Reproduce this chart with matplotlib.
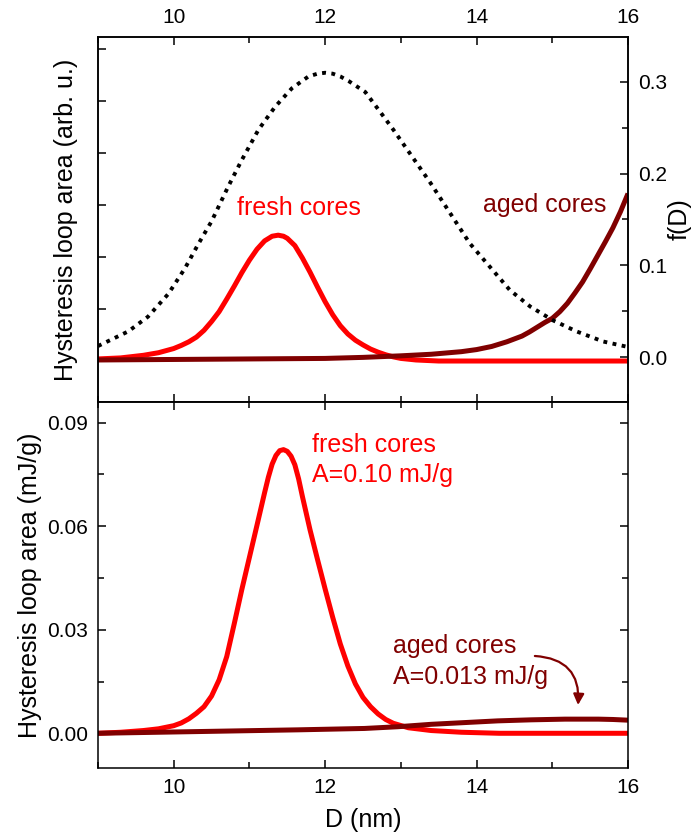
import matplotlib
matplotlib.use('Agg')
import matplotlib.pyplot as plt
from matplotlib.ticker import MultipleLocator

plt.rcParams['font.family'] = ['Liberation Sans', 'DejaVu Sans']

# --- data ---
# top panel: hysteresis loop area per particle (arb. u.)
x_fresh_top = [9.0, 9.3, 9.6, 9.8, 10.0, 10.1, 10.2, 10.3, 10.4, 10.5, 10.6,
               10.7, 10.8, 10.9, 11.0, 11.1, 11.2, 11.3, 11.38, 11.45, 11.5,
               11.6, 11.7, 11.8, 11.9, 12.0, 12.1, 12.2, 12.3, 12.4, 12.5,
               12.6, 12.7, 12.8, 12.9, 13.0, 13.2, 13.5, 14.0, 16.0]
y_fresh_top = [0.04, 0.06, 0.11, 0.16, 0.24, 0.30, 0.37, 0.46, 0.59, 0.76, 0.95,
               1.19, 1.44, 1.70, 1.94, 2.15, 2.31, 2.40, 2.42, 2.40, 2.36,
               2.22, 1.98, 1.71, 1.42, 1.14, 0.89, 0.68, 0.52, 0.40, 0.31,
               0.23, 0.17, 0.12, 0.08, 0.05, 0.02, 0.0, 0.0, 0.0]

x_aged_top = [9.0, 10.0, 11.0, 12.0, 12.5, 13.0, 13.4, 13.8, 14.0, 14.2, 14.4,
              14.6, 14.7, 14.8, 14.9, 15.0, 15.1, 15.2, 15.3, 15.4, 15.5,
              15.6, 15.7, 15.8, 15.9, 16.0]
y_aged_top = [0.02, 0.03, 0.04, 0.05, 0.07, 0.10, 0.13, 0.18, 0.22, 0.28, 0.37,
              0.48, 0.56, 0.65, 0.74, 0.82, 0.95, 1.11, 1.31, 1.52, 1.77,
              2.03, 2.29, 2.56, 2.87, 3.22]

# size distribution f(D)
x_dist = [9.0, 9.4, 9.66, 9.93, 10.15, 10.33, 10.5, 10.72, 10.9, 11.12, 11.34,
          11.56, 11.78, 11.9, 12.0, 12.1, 12.2, 12.31, 12.53, 12.73, 12.9,
          13.12, 13.39, 13.65, 13.91, 14.18, 14.44, 14.71, 15.01, 15.32,
          15.67, 16.0]
f_dist = [0.012, 0.028, 0.044, 0.069, 0.097, 0.124, 0.148, 0.186, 0.215, 0.248,
          0.273, 0.293, 0.306, 0.309, 0.310, 0.309, 0.306, 0.301, 0.289, 0.267,
          0.248, 0.222, 0.190, 0.157, 0.124, 0.098, 0.073, 0.055, 0.040, 0.028,
          0.017, 0.011]

# bottom panel: weighted hysteresis loop area (mJ/g)
x_fresh_bot = [9.0, 9.3, 9.6, 9.8, 10.0, 10.1, 10.2, 10.3, 10.4, 10.5, 10.6,
               10.7, 10.8, 10.9, 11.0, 11.1, 11.2, 11.25, 11.3, 11.35, 11.4,
               11.45, 11.5, 11.55, 11.6, 11.65, 11.7, 11.8, 11.9, 12.0, 12.1,
               12.2, 12.3, 12.4, 12.5, 12.6, 12.7, 12.8, 12.9, 13.1, 13.4,
               13.8, 14.3, 16.0]
y_fresh_bot = [0.0, 0.0003, 0.0008, 0.0013, 0.0022, 0.0030, 0.0042, 0.0058,
               0.0077, 0.0108, 0.0155, 0.0222, 0.0318, 0.0417, 0.0510, 0.0603,
               0.0697, 0.0742, 0.0780, 0.0805, 0.0819, 0.0822, 0.0817, 0.0803,
               0.0778, 0.0737, 0.0686, 0.0590, 0.0503, 0.0418, 0.0336, 0.0259,
               0.0195, 0.0143, 0.0104, 0.0077, 0.0056, 0.0040, 0.0029, 0.0016,
               0.0008, 0.0003, 0.0, 0.0]

x_aged_bot = [9.0, 10.32, 11.64, 12.52, 12.96, 13.4, 13.84, 14.28, 14.72,
              15.17, 15.61, 15.8, 16.0]
y_aged_bot = [0.0, 0.0005, 0.001, 0.0014, 0.0019, 0.0026, 0.0031, 0.0036,
              0.0039, 0.0041, 0.0041, 0.0040, 0.0038]

red = '#ff0000'
maroon = '#800000'
fs_tick = 15
fs_lab = 18
line_kw = dict(lw=3.6, solid_capstyle='butt', solid_joinstyle='round')

fig = plt.figure(figsize=(6.96, 8.39), dpi=100)
ax1 = fig.add_axes([0.1408, 0.52086, 0.76149, 0.43504])
ax2 = fig.add_axes([0.1408, 0.08462, 0.76149, 0.43624])


def style_ticks(ax):
    ax.tick_params(which='major', direction='in', length=6, width=1.1,
                   labelsize=fs_tick, pad=7)
    ax.tick_params(which='minor', direction='in', length=4, width=1.1)
    for s in ax.spines.values():
        s.set_linewidth(1.1)


# top panel
ax1.plot(x_fresh_top, y_fresh_top, color=red, **line_kw)
ax1.plot(x_aged_top, y_aged_top, color=maroon, **line_kw)
ax1.set_xlim(9, 16)
ax1.set_ylim(-0.788, 6.231)
ax1.xaxis.set_major_locator(MultipleLocator(2))
ax1.xaxis.set_minor_locator(MultipleLocator(1))
ax1.yaxis.set_major_locator(MultipleLocator(1))
style_ticks(ax1)
ax1.tick_params(axis='x', which='both', top=True, bottom=True,
                labeltop=True, labelbottom=False)
ax1.tick_params(axis='y', which='both', left=True, right=False,
                labelleft=False)
ax1.set_ylabel('Hysteresis loop area (arb. u.)', fontsize=fs_lab)
ax1.yaxis.set_label_coords(-0.037, 0.5)
ax1.text(10.83, 2.81, 'fresh cores', color=red, fontsize=fs_lab,
         ha='left', va='baseline')
ax1.text(14.09, 2.87, 'aged cores', color=maroon, fontsize=fs_lab,
         ha='left', va='baseline')

ax1r = ax1.twinx()
ax1r.plot(x_dist, f_dist, color='black', lw=2.8, linestyle=(0, (1, 1.4)))
ax1r.set_ylim(-0.049, 0.349)
ax1r.yaxis.set_major_locator(MultipleLocator(0.1))
ax1r.yaxis.set_minor_locator(MultipleLocator(0.05))
ax1r.yaxis.set_major_formatter(plt.FuncFormatter(lambda v, p: f'{v:.1f}'))
style_ticks(ax1r)
ax1r.set_ylabel('f(D)', fontsize=fs_lab)
ax1r.yaxis.set_label_coords(1.074, 0.5)

# bottom panel
ax2.plot(x_fresh_bot, y_fresh_bot, color=red, **line_kw)
ax2.plot(x_aged_bot, y_aged_bot, color=maroon, **line_kw)
ax2.set_xlim(9, 16)
ax2.set_ylim(-0.01006, 0.096)
ax2.xaxis.set_major_locator(MultipleLocator(2))
ax2.xaxis.set_minor_locator(MultipleLocator(1))
ax2.yaxis.set_major_locator(MultipleLocator(0.03))
ax2.yaxis.set_minor_locator(MultipleLocator(0.015))
ax2.yaxis.set_major_formatter(plt.FuncFormatter(lambda v, p: f'{v:.2f}'))
style_ticks(ax2)
ax2.tick_params(which='both', top=True, right=True)
ax2.set_xlabel('D (nm)', fontsize=fs_lab)
ax2.xaxis.set_label_coords(0.5, -0.109)
ax2.set_ylabel('Hysteresis loop area (mJ/g)', fontsize=fs_lab)
ax2.yaxis.set_label_coords(-0.106, 0.5)

ax2.text(11.83, 0.0816, 'fresh cores', color=red, fontsize=fs_lab,
         ha='left', va='baseline')
ax2.text(11.83, 0.0729, 'A=0.10 mJ/g', color=red, fontsize=fs_lab,
         ha='left', va='baseline')
ax2.text(12.90, 0.0234, 'aged cores', color=maroon, fontsize=fs_lab,
         ha='left', va='baseline')
ax2.text(12.90, 0.0143, 'A=0.013 mJ/g', color=maroon, fontsize=fs_lab,
         ha='left', va='baseline')
ax2.annotate('', xy=(15.34, 0.0082), xytext=(14.77, 0.0224),
             arrowprops=dict(arrowstyle='-|>', color=maroon, lw=1.6,
                             mutation_scale=16,
                             connectionstyle='arc3,rad=-0.5',
                             shrinkA=0, shrinkB=0))

fig.savefig('out.png', dpi=100)
